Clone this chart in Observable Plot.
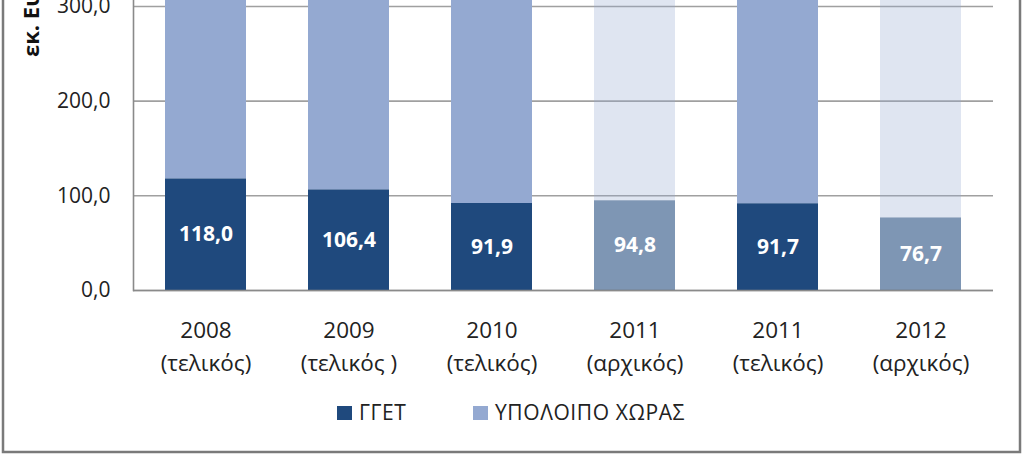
<!DOCTYPE html>
<html>
<head>
<meta charset="utf-8">
<script src="https://cdn.jsdelivr.net/npm/d3@7"></script>
<script src="https://cdn.jsdelivr.net/npm/@observablehq/plot@0.6"></script>
<style>
  html, body { margin: 0; padding: 0; background: #fff; }
  #chart { width: 1024px; height: 456px; overflow: hidden; }
</style>
</head>
<body>
<div id="chart"></div>
<script>
// Categories (unique keys) and their two-line labels
const categories = ["2008t", "2009t", "2010t", "2011a", "2011t", "2012a"];
const categoryLabels = ["2008\n(τελικός)", "2009\n(τελικός )", "2010\n(τελικός)", "2011\n(αρχικός)", "2011\n(τελικός)", "2012\n(αρχικός)"];
const preliminary = [false, false, false, true, false, true];
// Series values (εκ. Ευρώ)
const ggetValues = [118.0, 106.4, 91.9, 94.8, 91.7, 76.7];
// Rest-of-country values: tops are cropped off in the reference, estimated
const restValues = [290, 280, 270, 250, 260, 250];
const seriesNames = ["ΓΓΕΤ", "ΥΠΟΛΟΙΠΟ ΧΩΡΑΣ"];
const seriesColors = ["#1f497d", "#94a9d1"];
const yTicks = [0, 100, 200, 300];
const yLabel = "εκ. Ευρώ";

const data = [];
categories.forEach((c, i) => {
  data.push({cat: c, series: seriesNames[0], value: ggetValues[i], prelim: preliminary[i]});
  data.push({cat: c, series: seriesNames[1], value: restValues[i], prelim: preliminary[i]});
});
const labelMap = new Map(categories.map((c, i) => [c, categoryLabels[i]]));
const fmt = v => v.toFixed(1).replace(".", ",");
const font = "'Open Sans', 'Noto Sans', sans-serif";

const plot = Plot.plot({
  width: 1024,
  height: 456,
  marginLeft: 133,
  marginRight: 31,
  marginTop: 0,
  marginBottom: 166,
  style: {fontFamily: font, background: "#fff", overflow: "visible"},
  x: {domain: categories, paddingInner: 0.435, paddingOuter: 0.2175, axis: null},
  y: {domain: [0, 306.3], axis: null},
  color: {domain: seriesNames, range: seriesColors},
  marks: [
    Plot.gridY(yTicks, {stroke: "#a0a0a0", strokeOpacity: 1, strokeWidth: 1.6}),
    Plot.axisY(yTicks, {tickSize: 0, tickPadding: 23, tickFormat: fmt, fontSize: 21, fill: "#222", label: null}),
    Plot.frame({anchor: "left", stroke: "#8a8a8a", strokeWidth: 1.6}),
    Plot.barY(data, {
      x: "cat", y: "value", fill: "series",
      fillOpacity: d => d.prelim ? (d.series === seriesNames[0] ? 0.575 : 0.3) : 1,
      clip: true
    }),
    Plot.ruleY([0], {stroke: "#8a8a8a", strokeWidth: 1.6}),
    Plot.text(data.filter(d => d.series === seriesNames[0]), {
      x: "cat", y: d => d.value / 2, text: d => fmt(d.value),
      fill: "#fff", fontWeight: "bold", fontSize: 21, letterSpacing: 0.8
    }),
    Plot.text(categories, {
      x: d => d, y: () => 0, text: d => labelMap.get(d),
      lineAnchor: "top", dy: 25, lineHeight: 1.43, fontSize: 22.5, fill: "#222", letterSpacing: 0.6
    })
  ]
});

document.getElementById("chart").appendChild(plot);

// Legend, axis title and outer frame
const svg = d3.select(plot);
const lg = svg.append("g").attr("font-family", font).attr("font-size", 21).attr("fill", "#222").attr("text-anchor", "start");
const legendItems = [{x: 337, name: seriesNames[0], color: seriesColors[0]}, {x: 473, name: seriesNames[1], color: seriesColors[1]}];
legendItems.forEach(it => {
  lg.append("rect").attr("x", it.x).attr("y", 406).attr("width", 15).attr("height", 14).attr("fill", it.color);
  lg.append("text").attr("x", it.x + 22).attr("y", 420).attr("letter-spacing", 0.6).text(it.name);
});
svg.append("text")
  .attr("transform", "translate(39,57) rotate(-90)")
  .attr("text-anchor", "start")
  .attr("font-family", font).attr("font-size", 22).attr("font-weight", "bold").attr("fill", "#111")
  .text(yLabel);
svg.append("rect")
  .attr("x", 3).attr("y", -10).attr("width", 1017).attr("height", 462)
  .attr("fill", "none").attr("stroke", "#7a7a7a").attr("stroke-width", 2.5);
</script>
</body>
</html>
